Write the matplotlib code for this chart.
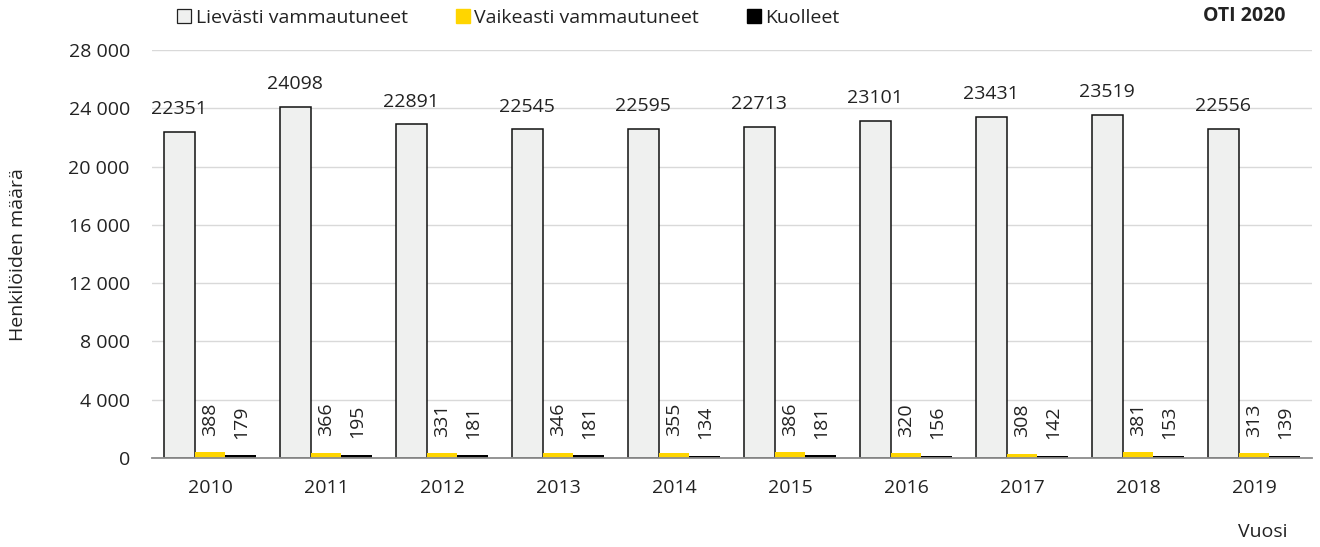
import matplotlib
matplotlib.use("Agg")
import matplotlib.pyplot as plt
from matplotlib.lines import Line2D
import numpy as np

plt.rcParams['font.family'] = ['Open Sans', 'DejaVu Sans']

years = ['2010', '2011', '2012', '2013', '2014', '2015', '2016', '2017', '2018', '2019']
lievasti = [22351, 24098, 22891, 22545, 22595, 22713, 23101, 23431, 23519, 22556]
vaikeasti = [388, 366, 331, 346, 355, 386, 320, 308, 381, 313]
kuolleet = [179, 195, 181, 181, 134, 181, 156, 142, 153, 139]
series_names = ['Lievästi vammautuneet', 'Vaikeasti vammautuneet', 'Kuolleet']
yticks = [0, 4000, 8000, 12000, 16000, 20000, 24000, 28000]
ytick_labels = ['0', '4 000', '8 000', '12 000', '16 000', '20 000', '24 000', '28 000']

FS = 14
TXT = '#222222'

fig = plt.figure(figsize=(13.2, 5.47), dpi=100)
ax = fig.add_axes([152/1320, 1-458/547, 1160/1320, 408/547])

x = np.arange(len(years))
w = 0.265
gray_c = '#eff0ef'
yellow_c = '#ffd500'
ax.bar(x - w, lievasti, w, color=gray_c, edgecolor='#111111', linewidth=1.1, zorder=3)
ax.bar(x, vaikeasti, w, color=yellow_c, edgecolor='none', zorder=3)
ax.bar(x + w, kuolleet, w, color='#000000', edgecolor='none', zorder=3)

for i in range(len(years)):
    ax.annotate(str(lievasti[i]), (x[i] - w, lievasti[i]), xytext=(0, 10),
                textcoords='offset points', ha='center', va='bottom', fontsize=FS, color=TXT)
    ax.annotate(str(vaikeasti[i]), (x[i], vaikeasti[i]), xytext=(0, 12),
                textcoords='offset points', ha='center', va='bottom', rotation=90,
                fontsize=FS, color=TXT)
    ax.annotate(str(kuolleet[i]), (x[i] + w, kuolleet[i]), xytext=(0, 12),
                textcoords='offset points', ha='center', va='bottom', rotation=90,
                fontsize=FS, color=TXT)

ax.set_xlim(-0.5, len(years) - 0.5)
ax.set_ylim(0, 28000)
ax.set_yticks(yticks)
ax.set_yticklabels(ytick_labels)
ax.set_xticks(x)
ax.set_xticklabels(years)
ax.tick_params(axis='both', length=0, labelsize=FS, colors=TXT)
ax.tick_params(axis='y', pad=16)
ax.tick_params(axis='x', pad=15)
ax.yaxis.grid(True, color='#d9d9d9', linewidth=1.0, zorder=0)
for s in ['top', 'right', 'left']:
    ax.spines[s].set_visible(False)
ax.spines['bottom'].set_color('#8c8c8c')
ax.spines['bottom'].set_linewidth(1.3)
ax.spines['bottom'].set_zorder(4)

fig.text(18/1320, 1-255/547, 'Henkilöiden määrä', rotation=90, ha='center', va='center',
         fontsize=FS, color=TXT)
fig.text(1263/1320, 1-532/547, 'Vuosi', ha='center', va='center', fontsize=FS, color=TXT)
fig.text(1244/1320, 1-16/547, 'OTI 2020', ha='center', va='center', fontsize=FS,
         fontweight='bold', color=TXT)

ms = 10
handles = [
    Line2D([], [], marker='s', linestyle='none', markersize=ms, markerfacecolor=gray_c,
           markeredgecolor='#222222', markeredgewidth=0.9),
    Line2D([], [], marker='s', linestyle='none', markersize=ms, markerfacecolor=yellow_c,
           markeredgecolor=yellow_c),
    Line2D([], [], marker='s', linestyle='none', markersize=ms, markerfacecolor='#000000',
           markeredgecolor='#000000'),
]
fig.legend(handles, series_names, loc='center left', bbox_to_anchor=(177/1320, 1-18/547),
           ncol=3, frameon=False, fontsize=FS, handlelength=0.72, handletextpad=0.25,
           columnspacing=2.45, borderaxespad=0, borderpad=0, labelcolor=TXT)

fig.savefig('out.png', dpi=100)
